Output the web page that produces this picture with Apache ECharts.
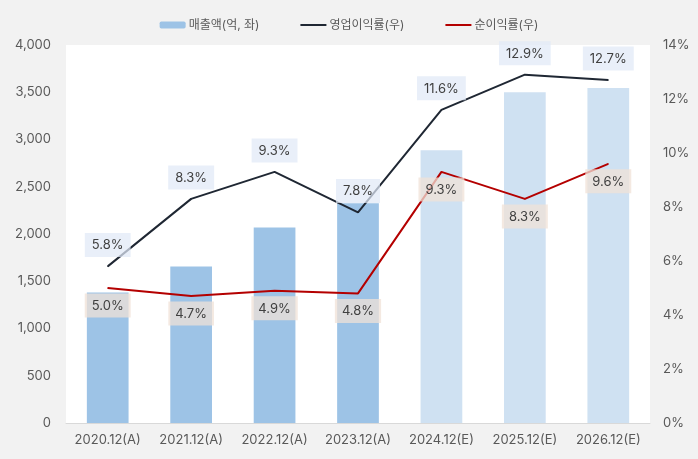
<!DOCTYPE html>
<html><head><meta charset="utf-8">
<script src="https://cdn.jsdelivr.net/npm/echarts@6/dist/echarts.min.js"></script>
<style>html,body{margin:0;padding:0;background:#f2f2f2}#c{width:698px;height:459px}</style>
</head><body><div id="c"></div>
<script>
const categories = ['2020.12(A)','2021.12(A)','2022.12(A)','2023.12(A)','2024.12(E)','2025.12(E)','2026.12(E)'];
const sales = [1380, 1655, 2068, 2325, 2886, 3500, 3545];
const opMargin = [5.8, 8.3, 9.3, 7.8, 11.6, 12.9, 12.7];
const netMargin = [5.0, 4.7, 4.9, 4.8, 9.3, 8.3, 9.6];
const isEstimate = [false, false, false, false, true, true, true];

const FONT = "Inter, 'Noto Sans CJK KR', sans-serif";
const chart = echarts.init(document.getElementById('c'));
chart.setOption({
  backgroundColor: '#f2f2f2',
  textStyle: { fontFamily: FONT },
  animation: false,
  legend: {
    top: 14, left: 'center',
    itemWidth: 26, itemHeight: 7, itemGap: 40,
    textStyle: { fontFamily: FONT, fontSize: 12, color: '#595959', padding: [0,0,0,-2] },
    data: [
      { name: '매출액(억, 좌)' },
      { name: '영업이익률(우)', itemStyle: { opacity: 0 } },
      { name: '순이익률(우)', itemStyle: { opacity: 0 } }
    ]
  },
  grid: { left: 66, right: 48, top: 45, bottom: 36, show: true, backgroundColor: '#ffffff', borderWidth: 0 },
  xAxis: {
    type: 'category', data: categories,
    axisLine: { lineStyle: { color: '#d9d9d9' } },
    axisTick: { show: false },
    axisLabel: { color: '#595959', fontSize: 13, margin: 11, fontFamily: FONT, interval: 0 }
  },
  yAxis: [
    { type: 'value', min: 0, max: 4000, interval: 500,
      splitLine: { show: false },
      axisLabel: { color: '#595959', fontSize: 13, margin: 15, fontFamily: FONT,
        formatter: v => v.toLocaleString('en-US') } },
    { type: 'value', min: 0, max: 14, interval: 2,
      splitLine: { show: false },
      axisLabel: { color: '#595959', fontSize: 13, margin: 13, fontFamily: FONT, formatter: '{value}%' } }
  ],
  series: [
    { name: '매출액(억, 좌)', type: 'bar', barWidth: '50%',
      itemStyle: { color: '#9dc3e6' },
      data: sales.map((v, i) => ({ value: v, itemStyle: { color: isEstimate[i] ? '#cfe1f2' : '#9dc3e6' } })) },
    { name: '영업이익률(우)', type: 'line', yAxisIndex: 1, data: opMargin,
      symbol: 'circle', symbolSize: 1, showSymbol: true,
      lineStyle: { color: '#1f2733', width: 2 }, itemStyle: { color: '#1f2733' },
      z: 3,
      label: { show: true, position: 'top', distance: 9, color: '#404040', fontSize: 13, fontFamily: FONT,
        formatter: p => p.value.toFixed(1) + '%',
        backgroundColor: 'rgba(225,233,246,0.72)', padding: [6, 7, 5, 7] } },
    { name: '순이익률(우)', type: 'line', yAxisIndex: 1, data: netMargin,
      symbol: 'circle', symbolSize: 1, showSymbol: true,
      lineStyle: { color: '#b40000', width: 2 }, itemStyle: { color: '#b40000' },
      z: 3,
      label: { show: true, position: 'bottom', distance: 5, color: '#404040', fontSize: 13, fontFamily: FONT,
        formatter: p => p.value.toFixed(1) + '%',
        backgroundColor: 'rgba(240,225,215,0.75)', padding: [6, 7, 5, 7] } }
  ]
});
</script></body></html>
